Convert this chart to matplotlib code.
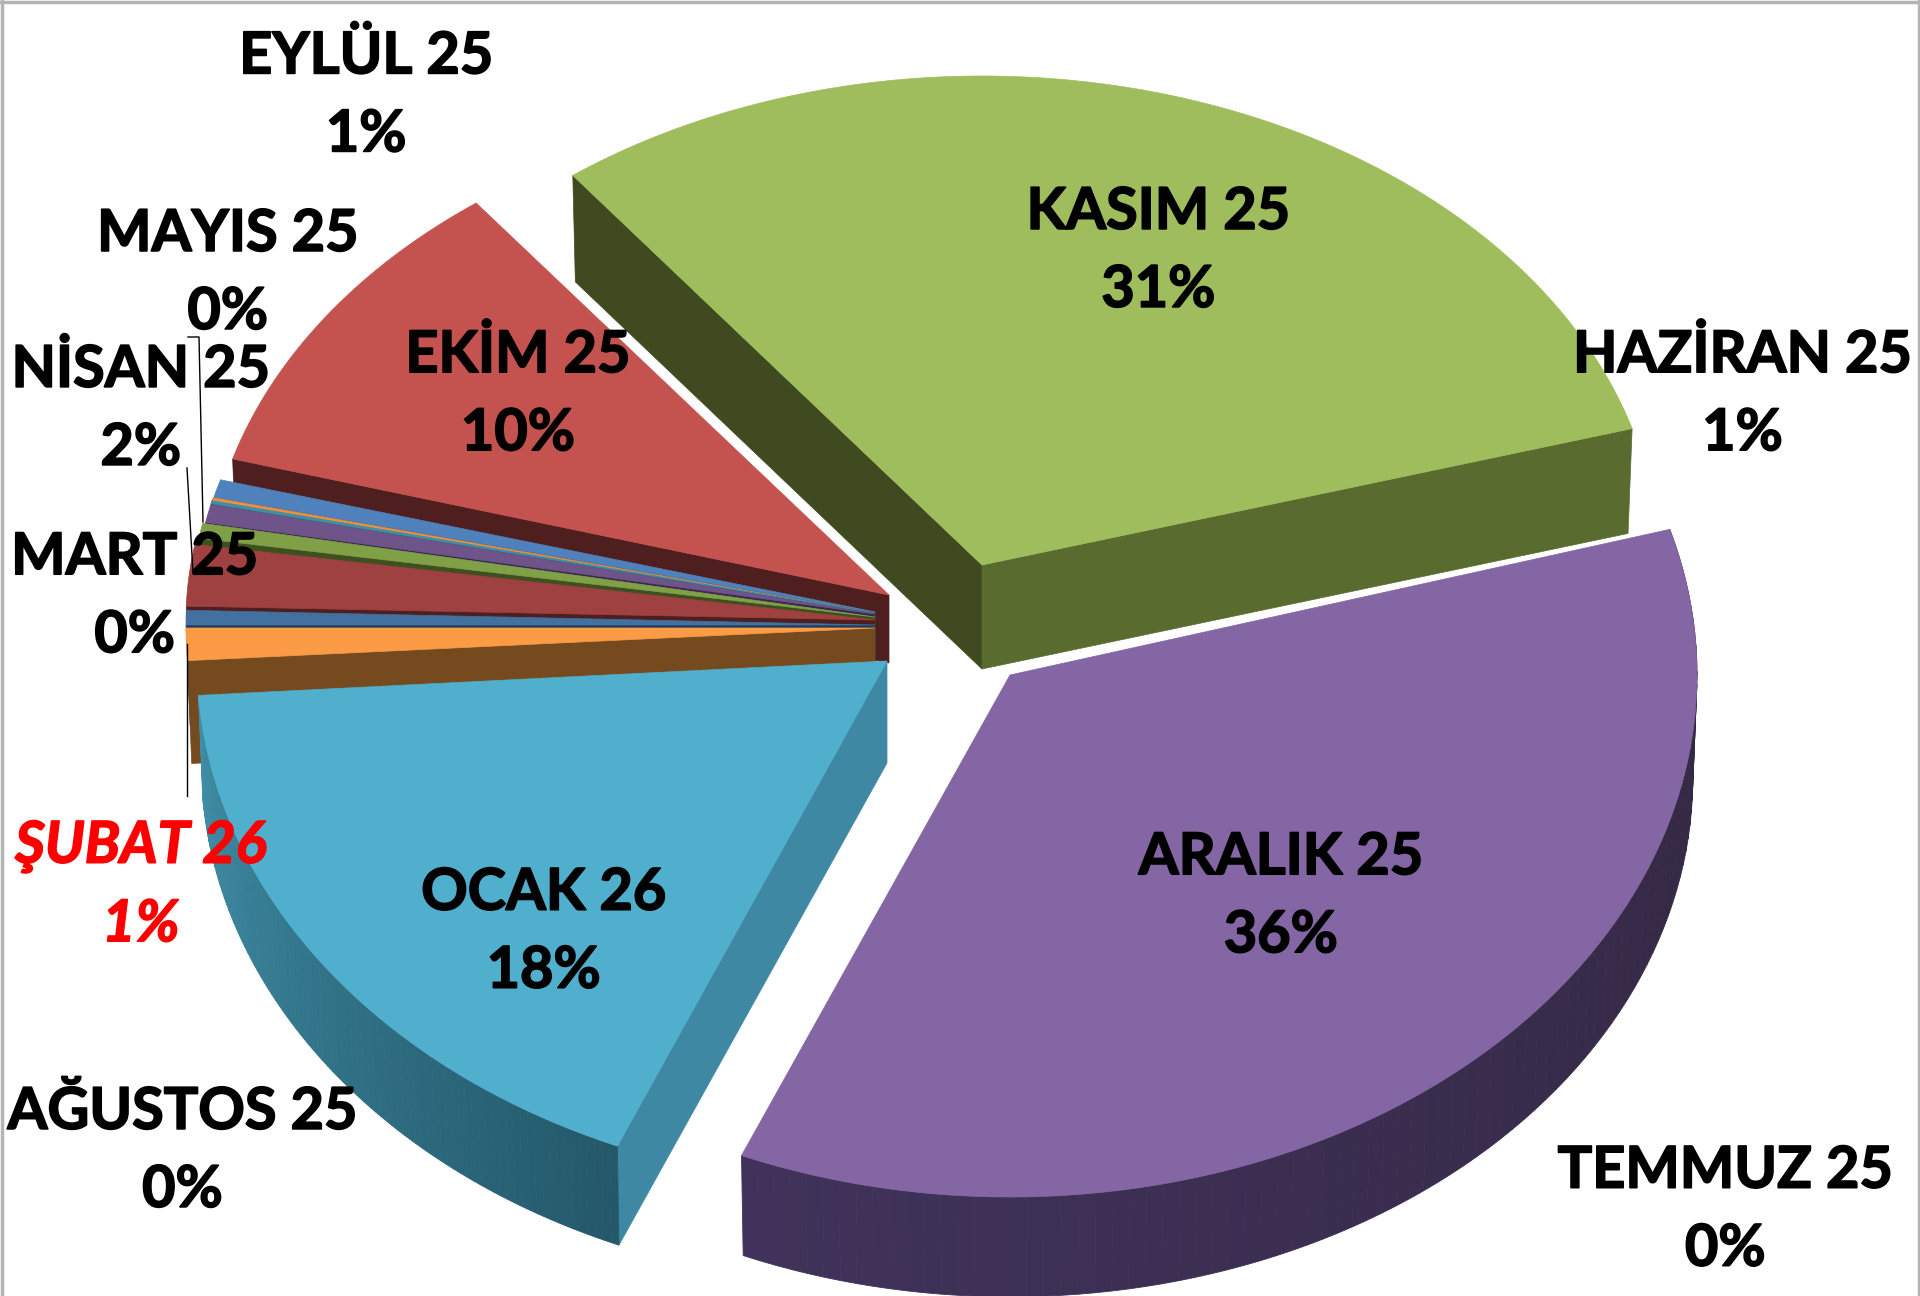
import numpy as np
import matplotlib
matplotlib.use("Agg")
import matplotlib.pyplot as plt
import matplotlib.patheffects as pe
from matplotlib.colors import to_rgb

plt.rcParams['font.family'] = ['Lato', 'DejaVu Sans']

# clockwise from the 9 o'clock position, same order as the sheet
months = ["MART 25", "NİSAN 25", "MAYIS 25", "HAZİRAN 25", "TEMMUZ 25", "AĞUSTOS 25",
          "EYLÜL 25", "EKİM 25", "KASIM 25", "ARALIK 25", "OCAK 26", "ŞUBAT 26"]
shares = [0.47, 2.10, 0.49, 0.60, 0.10, 0.10, 0.60, 10.21, 30.83, 35.89, 17.57, 1.04]
pct_labels = ["0%", "2%", "0%", "1%", "0%", "0%", "1%", "10%", "31%", "36%", "18%", "1%"]

top_colors = ["#42709F", "#9E4140", "#80A047", "#6F5489", "#3F8FA8", "#F0903C",
              "#4F81BD", "#C4524F", "#9FBD5C", "#8366A3", "#4FAFCC", "#FB9B46"]
face_colors = ["#1F3A5A", "#4E1F1E", "#3F5020", "#3A2A50", "#2A5A6A", "#7A4A1F",
               "#2A4460", "#4E1F1E", "#3F4A20", "#33283F", "#3F88A3", "#754A1F"]

# each slice got dragged out by hand, so each has its own centre and radii
center_x = [875, 875, 875, 875, 875, 875, 875, 889, 982, 1010, 887, 875]
center_y = [625, 620, 617, 614, 613, 613, 612, 595, 565, 675, 661, 628]
radius_x = [689, 689, 685, 682, 682, 682, 681, 683, 677, 687, 690, 689]
radius_y = [500, 470, 490, 480, 480, 480, 478, 492, 489, 522, 527, 500]
depths = [100, 100, 100, 100, 100, 100, 100, 68, 104, 103, 102, 103]

label_x = [110, 115, 186, 1423, 1409, 149, 299, 423, 946, 1046, 444, 115]
label_y = [453, 300, 189, 288, 954, 906, 44, 288, 171, 698, 727, 689]

S = 1920 / 1568

fig = plt.figure(figsize=(19.2, 12.96), dpi=100)
ax = fig.add_axes([0, 0, 1, 1])
ax.set_xlim(0, 1920)
ax.set_ylim(1296, 0)
ax.axis("off")

angles = 180 - np.concatenate([[0], np.cumsum(shares)]) * 360 / sum(shares)


def ell(i, t, drop=0.0):
    t = np.radians(t)
    shrink = 1 - 0.006 * drop / 100
    x = center_x[i] + radius_x[i] * shrink * np.cos(t)
    y = center_y[i] - radius_y[i] * shrink * np.sin(t) + drop
    return x, y


def arc(i, t0, t1, drop=0.0, n=120):
    return ell(i, np.linspace(t0, t1, n), drop)


def draw_top(i, z):
    x, y = arc(i, angles[i], angles[i + 1])
    ax.fill(np.r_[center_x[i], x], np.r_[center_y[i], y], color=top_colors[i], lw=0.5, zorder=z)


def draw_face(i, t, color, z):
    x, y = ell(i, t)
    xb, yb = ell(i, t, depths[i])
    ax.fill([center_x[i], x, xb, center_x[i]],
            [center_y[i], y, yb, center_y[i] + depths[i]], color=color, lw=0.5, zorder=z)


def draw_rim(i, t0, t1, c0, c1, z, n=90):
    ts = np.linspace(t0, t1, n + 1)
    c0, c1 = np.array(to_rgb(c0)), np.array(to_rgb(c1))
    for k in range(n):
        xa, ya = arc(i, ts[k], ts[k + 1], 0, 4)
        xb, yb = arc(i, ts[k + 1], ts[k], depths[i], 4)
        col = c0 + (c1 - c0) * k / (n - 1)
        ax.fill(np.r_[xa, xb], np.r_[ya, yb], color=col, lw=0.6, zorder=z)


# back to front
z = 1
KASIM, ARALIK, OCAK = 8, 9, 10
draw_face(KASIM, angles[KASIM], "#3F4A20", z)
draw_face(KASIM, angles[KASIM + 1], "#5A6B2F", z)
draw_top(KASIM, z + 1)
z += 2

for i in [7, 6, 5, 4, 3, 2, 1, 0, 11]:
    draw_face(i, angles[i], face_colors[i], z)
    draw_top(i, z + 1)
    z += 2

draw_face(OCAK, angles[OCAK], "#3F88A3", z)
draw_rim(OCAK, angles[OCAK], angles[OCAK + 1], "#24586A", "#3F8EA7", z + 1)
draw_top(OCAK, z + 2)
z += 3

draw_rim(ARALIK, angles[ARALIK], angles[ARALIK + 1], "#322740", "#40325A", z)
draw_top(ARALIK, z + 1)
z += 2

# leader lines
ax.plot([188, 199, 203], [337, 337, 522], color="black", lw=1, zorder=z)
ax.plot([187, 193], [468, 573], color="black", lw=1, zorder=z)
ax.plot([187, 187], [644, 796], color="black", lw=1, zorder=z)

for i, name in enumerate(months):
    red = name.startswith("ŞUBAT")
    col = "#FF0000" if red else "black"
    for txt, dy in [(name, 0), (pct_labels[i], 78)]:
        t = ax.text(label_x[i] * S, label_y[i] * S + dy + 3, txt, ha="center", va="center",
                    fontsize=41.5, fontweight="bold", color=col,
                    style="italic" if red else "normal", zorder=z + 1)
        t.set_path_effects([pe.withStroke(linewidth=1.2, foreground=col)])

# chart area frame
ax.plot([1.5, 1.5], [0, 1296], color="#B4B4B4", lw=2.5, zorder=z + 2)
ax.plot([0, 1920], [1.5, 1.5], color="#B4B4B4", lw=2.5, zorder=z + 2)
ax.plot([1918.5, 1918.5], [0, 1296], color="#B4B4B4", lw=2.5, zorder=z + 2)

fig.savefig("out.png", dpi=100, facecolor="white")
